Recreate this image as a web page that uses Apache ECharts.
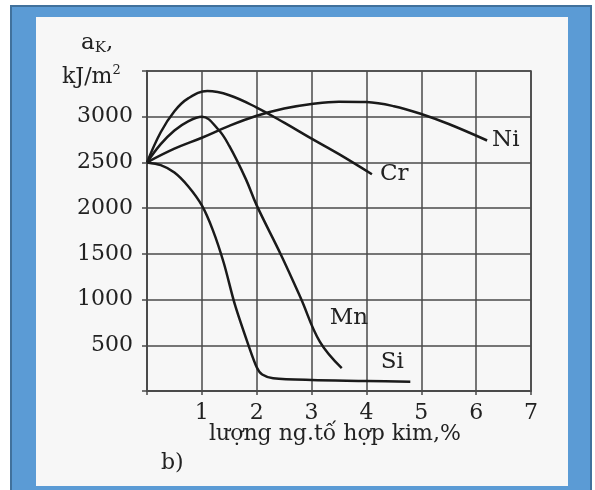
<!DOCTYPE html>
<html>
<head>
<meta charset="utf-8">
<script src="https://cdn.jsdelivr.net/npm/echarts@6/dist/echarts.min.js"></script>
<style>
html,body{margin:0;padding:0;background:#ffffff;}
#c{width:595px;height:490px;}
</style>
</head>
<body>
<div id="c"></div>
<script>
// ---- data (x: % alloying element, y: a_K in kJ/m^2) ----
const xTicks = [0, 1, 2, 3, 4, 5, 6, 7];
const yTicks = [500, 1000, 1500, 2000, 2500, 3000];
const seriesNames = ['Ni', 'Cr', 'Mn', 'Si'];
const ni = [[0,2500],[0.5,2650],[1,2770],[1.5,2900],[2,3010],[2.5,3090],[3,3140],[3.5,3165],[4,3160],[4.5,3115],[5,3030],[5.5,2920],[6.2,2740]];
const cr = [[0,2500],[0.25,2830],[0.5,3060],[0.75,3200],[1.1,3280],[1.5,3235],[2.0,3100],[2.5,2935],[3.0,2760],[3.5,2590],[4.1,2370]];
const mn = [[0,2500],[0.25,2700],[0.5,2850],[0.75,2950],[1.0,3000],[1.3,2860],[1.5,2680],[1.8,2320],[2.0,2030],[2.45,1480],[2.8,1020],[3.15,540],[3.55,250]];
const si = [[0,2500],[0.25,2470],[0.5,2390],[0.75,2240],[1.0,2030],[1.2,1760],[1.4,1400],[1.6,950],[1.85,500],[2.0,260],[2.1,180],[2.3,140],[3,120],[4,110],[4.8,100]];

const FONT = '"DejaVu Serif", "Liberation Serif", serif';
const TXT = '#222222';
const LINE = '#1a1a1a';
const GRIDC = '#4a4a4a';

const chart = echarts.init(document.getElementById('c'), null, {renderer: 'canvas'});

function lineSeries(name, data, smooth) {
  return {
    name: name,
    type: 'line',
    data: data,
    smooth: smooth,
    showSymbol: false,
    symbol: 'none',
    lineStyle: {color: LINE, width: 2.5},
    z: 5,
    silent: true
  };
}

const sNi = lineSeries(seriesNames[0], ni, 0.4);
sNi.endLabel = {show: true, formatter: '{a}', fontFamily: FONT, fontSize: 23, color: TXT, distance: 5};
const sCr = lineSeries(seriesNames[1], cr, 0.4);
sCr.endLabel = {show: true, formatter: '{a}', fontFamily: FONT, fontSize: 23, color: TXT, distance: 8};
const sMn = lineSeries(seriesNames[2], mn, 0.4);
sMn.markPoint = {
  symbol: 'circle', symbolSize: 0, silent: true,
  data: [{coord: [3.68, 800], value: seriesNames[2]}],
  label: {show: true, position: 'inside', formatter: seriesNames[2], fontFamily: FONT, fontSize: 23, color: TXT}
};
const sSi = lineSeries(seriesNames[3], si, 0.3);
sSi.markPoint = {
  symbol: 'circle', symbolSize: 0, silent: true,
  data: [{coord: [4.47, 320], value: seriesNames[3]}],
  label: {show: true, position: 'inside', formatter: seriesNames[3], fontFamily: FONT, fontSize: 23, color: TXT}
};

const option = {
  animation: false,
  backgroundColor: '#ffffff',
  graphic: [
    {type: 'rect', z: -10, shape: {x: 11, y: 6, width: 580, height: 495},
     style: {fill: '#5b9bd5', stroke: '#41719c', lineWidth: 2}},
    {type: 'rect', z: -9, shape: {x: 36, y: 17, width: 532, height: 469},
     style: {fill: '#f7f7f7'}},
    {type: 'text', z: 10, left: 81, top: 32,
     style: {text: '{a|a}{k|K}{a|,}', rich: {
       a: {fontFamily: FONT, fontSize: 23, fill: TXT},
       k: {fontFamily: FONT, fontSize: 15, fill: TXT, padding: [10, 0, 0, 0]}
     }}},
    {type: 'text', z: 10, left: 62, top: 64,
     style: {text: '{a|kJ/m}{s|2}', rich: {
       a: {fontFamily: FONT, fontSize: 22, fill: TXT},
       s: {fontFamily: FONT, fontSize: 13, fill: TXT, padding: [0, 0, 14, 0]}
     }}},
    {type: 'text', z: 10, left: 209, top: 423,
     style: {text: 'lượng ng.tố hợp kim,%', fontFamily: FONT, fontSize: 22, fill: TXT}},
    {type: 'text', z: 10, left: 161, top: 452,
     style: {text: 'b)', fontFamily: FONT, fontSize: 22, fill: TXT}}
  ],
  grid: {left: 147, right: 64, top: 71, bottom: 99, show: true,
         borderColor: GRIDC, borderWidth: 1.6, backgroundColor: 'transparent'},
  xAxis: {
    type: 'value', min: xTicks[0], max: xTicks[xTicks.length - 1], interval: 1,
    axisLine: {show: true, lineStyle: {color: GRIDC, width: 1.8}},
    axisTick: {show: true, length: 4, lineStyle: {color: GRIDC, width: 1.5}},
    splitLine: {show: true, lineStyle: {color: GRIDC, width: 1.5}},
    axisLabel: {
      margin: 11, fontFamily: FONT, fontSize: 22, color: TXT,
      formatter: function (v) { return v === 0 ? '' : String(v); }
    }
  },
  yAxis: {
    type: 'value', min: 0, max: 3500, interval: 500,
    axisLine: {show: true, lineStyle: {color: GRIDC, width: 1.8}},
    axisTick: {show: true, length: 5, lineStyle: {color: GRIDC, width: 1.5}},
    splitLine: {show: true, lineStyle: {color: GRIDC, width: 1.5}},
    axisLabel: {
      margin: 14, fontFamily: FONT, fontSize: 22, color: TXT,
      formatter: function (v) { return yTicks.indexOf(v) >= 0 ? String(v) : ''; }
    }
  },
  series: [sNi, sCr, sMn, sSi]
};
chart.setOption(option);
</script>
</body>
</html>
